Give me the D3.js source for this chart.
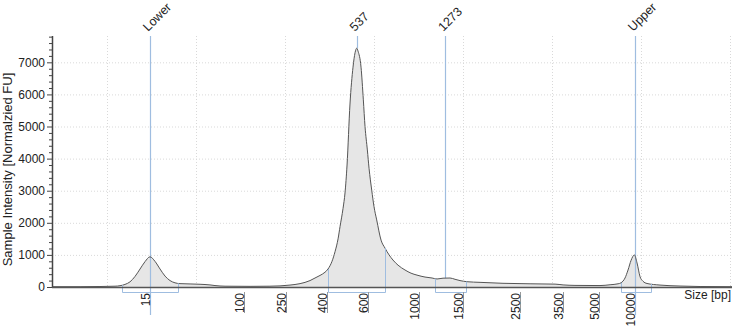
<!DOCTYPE html>
<html>
<head>
<meta charset="utf-8">
<script src="https://cdn.jsdelivr.net/npm/d3@7"></script>
<style>
  body { margin: 0; background: #fff; }
  svg { font-family: "Liberation Sans", Arial, sans-serif; }
</style>
</head>
<body>
<svg id="chart" width="736" height="326"></svg>
<script>
// migration position (grid units) of each trace sample and its intensity
const traceMig = [0.382, 0.697, 0.921, 1.090, 1.146, 1.202, 1.258, 1.315, 1.371, 1.427,
  1.483, 1.539, 1.596, 1.652, 1.708, 1.764, 1.820, 1.933, 2.045, 2.157,
  2.213, 2.326, 2.607, 2.831, 2.944, 3.056, 3.169, 3.281, 3.337, 3.393,
  3.449, 3.483, 3.528, 3.562, 3.596, 3.618, 3.652, 3.674, 3.697, 3.730,
  3.764, 3.787, 3.806, 3.820, 3.854, 3.880, 3.899, 3.925, 3.944, 3.974,
  4.000, 4.030, 4.079, 4.124, 4.169, 4.213, 4.270, 4.348, 4.416, 4.483,
  4.573, 4.652, 4.708, 4.775, 4.854, 4.910, 4.966, 5.045, 5.191, 5.449,
  5.753, 6.034, 6.124, 6.258, 6.539, 6.652, 6.742, 6.775, 6.820, 6.854,
  6.888, 6.925, 6.955, 6.989, 7.022, 7.067, 7.213, 7.438, 7.663, 8.022];
const traceFU = [10, 10, 15, 25, 40, 80, 160, 330, 560, 790,
  940, 800, 560, 340, 200, 130, 105, 95, 85, 65,
  45, 25, 20, 25, 35, 60, 105, 200, 280, 360,
  460, 560, 800, 1100, 1500, 1880, 2450, 2930, 3800, 5700,
  6850, 7300, 7440, 7350, 6850, 5830, 5000, 4270, 3700, 3020,
  2500, 2090, 1460, 1210, 1000, 840, 680, 530, 430, 370,
  310, 280, 250, 275, 280, 240, 200, 165, 145, 115,
  100, 90, 65, 50, 45, 70, 100, 130, 280, 530,
  830, 1000, 750, 320, 180, 110, 60, 30, 15, 10];

// ladder calibration: size [bp] -> migration position
const ladderSizes = [15, 100, 250, 400, 600, 1000, 1500, 2500, 3500, 5000, 10000];
const ladderMig = [1.483, 2.539, 3.011, 3.472, 3.933, 4.506, 5.0, 5.640, 6.124, 6.528, 6.933];

// called peaks
const peakNames = ["Lower", "537", "1273", "Upper"];
const peakSizes = [15, 537, 1273, 10000];
const peakIsMarker = [true, false, false, true];

// integration regions (migration units)
const regionStart = [1.169, 3.483, 4.685, 6.775];
const regionEnd = [1.798, 4.124, 5.034, 7.112];

const yTicks = [0, 1000, 2000, 3000, 4000, 5000, 6000, 7000];
const gridMig = [1, 2, 3, 4, 5, 6, 7, 8];

const margin = {top: 36, right: 4, bottom: 39, left: 52};
const width = 736 - margin.left - margin.right;
const height = 326 - margin.top - margin.bottom;

const svg = d3.select("#chart");
const g = svg.append("g").attr("transform", `translate(${margin.left},${margin.top})`);

const x = d3.scaleLinear().domain([0.382, 8.022]).range([0, width]);
const y = d3.scaleLinear().domain([0, 7820]).range([height, 0]);
const sizeToMig = d3.scaleLog().domain(ladderSizes).range(ladderMig);

const trace = traceMig.map((m, i) => ({m, v: traceFU[i]}));
const bis = d3.bisector(d => d.m).left;
function valueAt(m) {
  const i = Math.max(1, Math.min(trace.length - 1, bis(trace, m)));
  const a = trace[i - 1], b = trace[i];
  return a.v + (b.v - a.v) * (m - a.m) / (b.m - a.m);
}

// grid
const gridCol = "#d9d9d9";
g.append("g").selectAll("line").data(yTicks.slice(1)).join("line")
    .attr("x1", 0).attr("x2", width)
    .attr("y1", d => y(d) + 0.5).attr("y2", d => y(d) + 0.5)
    .attr("stroke", gridCol).attr("stroke-dasharray", "1,2");
g.append("g").selectAll("line").data(gridMig).join("line")
    .attr("x1", d => Math.round(x(d)) + 0.5).attr("x2", d => Math.round(x(d)) + 0.5)
    .attr("y1", 0).attr("y2", height)
    .attr("stroke", gridCol).attr("stroke-dasharray", "1,2");

// trace
const area = d3.area().x(d => x(d.m)).y0(y(0)).y1(d => y(d.v)).curve(d3.curveMonotoneX);
const line = d3.line().x(d => x(d.m)).y(d => y(d.v)).curve(d3.curveMonotoneX);
g.append("path").datum(trace).attr("d", area).attr("fill", "#e6e6e6");

const blue = "#9fbde0";

// peak marker lines
const peaks = peakNames.map((n, i) => ({name: n, m: sizeToMig(peakSizes[i]), marker: peakIsMarker[i]}));
g.append("g").selectAll("line").data(peaks).join("line")
    .attr("x1", d => Math.round(x(d.m)) + 0.5).attr("x2", d => Math.round(x(d.m)) + 0.5)
    .attr("y1", 0)
    .attr("y2", d => d.marker ? height + 28 : y(valueAt(d.m)))
    .attr("stroke", blue).attr("stroke-width", 1.2);

g.append("path").datum(trace).attr("d", line)
    .attr("fill", "none").attr("stroke", "#555").attr("stroke-width", 1);

// region brackets
const regions = regionStart.map((s, i) => ({s, e: regionEnd[i]}));
g.append("g").selectAll("path").data(regions).join("path")
    .attr("d", d => {
      const xs = Math.round(x(d.s)) + 0.5, xe = Math.round(x(d.e)) + 0.5, yb = height + 5.5;
      return `M${xs},${y(valueAt(d.s))}V${yb}H${xe}V${y(valueAt(d.e))}`;
    })
    .attr("fill", "none").attr("stroke", blue).attr("stroke-width", 1);

// peak labels, slanted
g.append("g").selectAll("text").data(peaks).join("text")
    .attr("x", d => x(d.m) - 2)
    .attr("y", -4)
    .attr("transform", d => `rotate(-45 ${x(d.m) - 2} -4)`)
    .attr("font-size", 12.5).attr("fill", "#222")
    .text(d => d.name);

// y axis
const yAxis = d3.axisLeft(y).tickValues(yTicks).tickFormat(d3.format("d")).tickSize(5).tickPadding(2);
const yg = g.append("g").call(yAxis);
yg.select(".domain").remove();
yg.selectAll("text").attr("font-size", 12).attr("fill", "#222").attr("font-family", null);
yg.selectAll("line").attr("stroke", "#444");
g.append("g").selectAll("line").data(d3.range(0, 7801, 200).filter(v => v % 1000 !== 0)).join("line")
    .attr("x1", -3).attr("x2", 0)
    .attr("y1", d => y(d) + 0.5).attr("y2", d => y(d) + 0.5)
    .attr("stroke", "#444");
g.append("line").attr("x1", 0.5).attr("x2", 0.5).attr("y1", 0).attr("y2", height)
    .attr("stroke", "#444").attr("stroke-width", 1.5);

// x axis baseline
g.append("line").attr("x1", 0).attr("x2", width).attr("y1", height + 0.5).attr("y2", height + 0.5)
    .attr("stroke", "#555").attr("stroke-width", 1.5);

// ladder ticks (labels rotated, line to the right)
const ticks = g.append("g").selectAll("g").data(ladderSizes).join("g")
    .attr("transform", d => `translate(${Math.round(x(sizeToMig(d))) + 0.5},${height})`);
ticks.filter(d => d !== 15 && d !== 10000).append("line")
    .attr("y1", 5).attr("y2", 26).attr("stroke", "#999");
ticks.append("text")
    .attr("transform", "translate(-1,6) rotate(-90)")
    .attr("text-anchor", "end").attr("font-size", 12).attr("fill", "#222")
    .text(d => d);

g.append("text").attr("x", width - 1).attr("y", height + 12)
    .attr("text-anchor", "end").attr("font-size", 12).attr("fill", "#222")
    .text("Size [bp]");

svg.append("text")
    .attr("transform", `translate(12,${margin.top + height / 2 + 8}) rotate(-90)`)
    .attr("text-anchor", "middle").attr("font-size", 13).attr("fill", "#222")
    .text("Sample Intensity [Normalzied FU]");
</script>
</body>
</html>
